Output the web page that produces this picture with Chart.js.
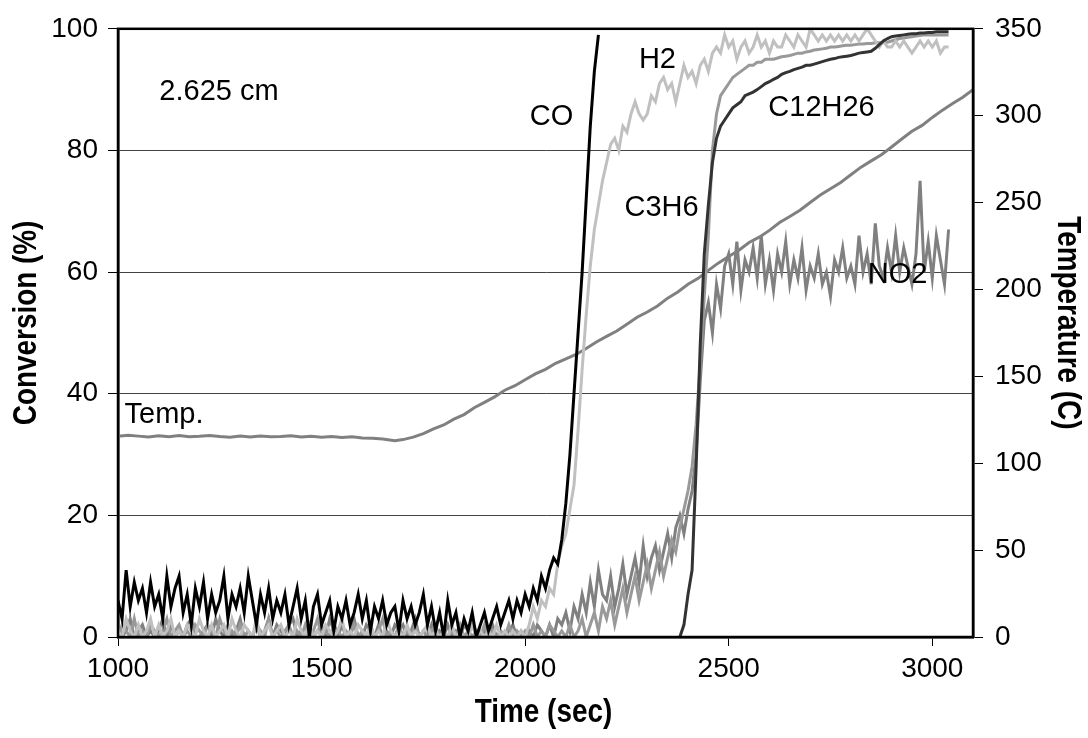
<!DOCTYPE html>
<html>
<head>
<meta charset="utf-8">
<script src="https://cdn.jsdelivr.net/npm/chart.js@4.4.1/dist/chart.umd.min.js"></script>
<style>
  html, body { margin: 0; padding: 0; background: #ffffff; }
  #wrap { width: 1088px; height: 738px; }
</style>
</head>
<body>
<div id="wrap"><canvas id="c" width="1088" height="738"></canvas></div>
<script>
// ---------------- DATA ----------------
const timeStep = 10;          // seconds between samples
const convStart = 1000;       // first sample time for CO, H2, C3H6, NO2
const c12h26Start = 2380;     // first sample time for C12H26

const xTicks = [1000, 1500, 2000, 2500, 3000];
const convTicks = [0, 20, 40, 60, 80, 100];
const tempTicks = [0, 50, 100, 150, 200, 250, 300, 350];

const coConv = [
  6,3,11,5,9,6,8,4,9,5,
  7,3,10,5,8,10,4,7,2,8,
  5,9,3,7,4,6,10,3,7,5,
  8,4,10,6,2,7,4,8,3,6,
  4,7,2,5,8,3,6,0,5,7,
  2,4,6,1,5,3,6,2,4,7,
  3,6,1,5,3,6,2,4,5,1,
  6,3,5,2,4,7,2,5,1,4,
  0,6,2,4,0,3,1,4,0,2,
  4,1,3,5,2,4,6,3,6,4,
  7,5,8,6,10,8,11,13,12,16,
  22,30,40,50,60,72,84,93,99
];

const h2Conv = [
  1,0,3,1,0,2,0,1,3,0,
  2,0,1,3,0,1,0,2,1,0,
  3,1,0,2,0,1,2,0,3,1,
  0,2,1,0,3,0,1,2,0,1,
  2,0,1,0,3,1,0,2,0,1,
  0,2,1,0,1,3,0,1,0,2,
  1,0,2,0,1,0,3,1,0,1,
  0,2,0,1,0,1,2,0,1,0,
  1,0,2,0,1,0,0,2,0,1,
  0,1,0,2,0,1,0,1,0,1,
  0,2,5,3,6,5,8,7,12,15,
  17,21,25,34,44,53,61,67,71,75,
  78,81,82,80,84,83,86,88,86,85,
  86,89,88,91,92,90,91,88,91,94,
  92,93,91,94,95,93,96,97,96,99,
  97,98,95,97,98,96,97,99,97,98,
  96,98,97,97,99,98,97,99,98,97,
  100,99,98,99,98,99,98,99,98,99,
  98,99,98,99,100,99,98,97,98,97,
  97,98,97,98,97,96,97,98,97,98,
  97,98,96,97,97
];

const c3h6Conv = [
  0,2,1,0,3,0,1,0,2,1,
  0,1,3,0,1,2,0,1,0,2,
  1,0,2,1,0,3,1,0,1,0,
  2,0,1,0,2,1,0,3,0,1,
  0,1,2,0,1,0,2,0,1,3,
  0,1,0,2,1,0,1,0,2,0,
  1,0,2,0,1,3,0,1,0,2,
  0,1,0,2,0,1,0,1,2,0,
  1,0,1,0,2,0,1,0,1,0,
  2,0,1,0,1,0,2,0,1,0,
  1,0,2,0,1,0,2,1,0,1,
  0,2,0,1,3,0,2,4,1,5,
  3,6,2,5,8,4,7,10,6,9,
  12,8,11,14,10,13,16,14,18,21,
  24,28,35,45,56,66,80,86,89,90,
  91,92,92.5,93,93.5,94,94,94.5,94.5,95,
  95,95,95.2,95.4,95.5,95.6,95.8,96,96,96.2,
  96.3,96.5,96.6,96.7,96.8,97,97,97.1,97.2,97.3,
  97.3,97.4,97.5,97.5,97.6,97.6,97.7,97.7,97.7,97.8,
  98,98.2,98.4,98.5,98.6,98.7,98.8,98.9,99,99,
  99,99,99,99,99
];

const no2Conv = [
  2,0,1,3,0,1,2,0,1,0,
  1,3,0,2,0,1,0,2,3,0,
  0,1,2,0,3,1,0,2,0,1,
  3,0,1,0,2,0,1,3,0,2,
  1,0,2,3,0,1,0,2,0,1,
  2,0,3,1,0,2,0,1,3,0,
  0,2,1,0,2,0,1,0,2,1,
  2,0,1,3,0,1,0,2,0,1,
  0,2,0,1,0,2,1,0,1,0,
  1,0,2,0,1,0,1,2,0,1,
  0,1,0,2,1,0,2,0,3,2,
  4,1,5,3,7,4,9,5,11,7,
  6,10,5,8,12,7,10,13,9,15,
  10,13,15,11,14,17,13,18,20,17,
  21,24,30,42,52,55,50,58,54,61,
  63,58,65,57,62,60,64,59,66,58,
  62,57,63,60,65,58,62,59,64,57,
  61,59,63,58,60,56,62,60,64,59,
  61,58,66,60,63,58,68,61,59,64,
  60,66,60,64,61,58,63,75,60,65,
  59,66,62,58,67
];

const c12h26Conv = [
  0,2,7,11,28,48,63,71,78,82,
  84,85,86,87,87.5,88,89,89.3,89.6,90,
  90.5,91,91.3,91.7,92,92.5,92.8,93,93.3,93.5,
  93.7,94,94,94.2,94.4,94.6,94.8,95,95.1,95.3,
  95.4,95.5,95.6,95.8,96,96.1,96.2,96.3,96.8,97.4,
  98,98.4,98.7,98.8,98.9,99,99.1,99.2,99.2,99.3,
  99.3,99.4,99.4,99.5,99.5,99.5,99.5
];

const tempTime = [
  1000,1025,1050,1075,1100,1125,1150,1175,1200,1225,1250,1275,1300,1325,1350,1375,
  1400,1425,1450,1475,1500,1525,1550,1575,1600,1625,1650,1680,1700,1725,
  1750,1775,1800,1825,1850,1875,1900,1925,1950,1975,2000,2025,2050,2075,
  2100,2125,2150,2175,2200,2225,2250,2275,2300,2325,2350,2375,2400,2425,
  2450,2475,2500,2525,2550,2575,2600,2625,2650,2675,2700,2725,2750,2775,
  2800,2825,2850,2875,2900,2925,2950,2975,3000,3025,3050,3075,3100
];
const tempValues = [
  115.5,116.1,115.6,115.1,115.8,115.3,115.9,115.2,115.5,116,115.4,115,115.6,115.1,115.7,115.2,
  115.4,115.8,115.1,115.5,115,115.4,114.8,115.2,114.5,114.4,114,113,113.6,115,
  117,119.8,122,125.4,128,131.9,135,138.2,142,144.6,148,151.4,154,157.5,
  160,162.6,166,169.8,173,176.1,180,184,187,190.5,195,198.5,203,206.4,
  211,215.3,219,222.6,227,230.1,234,238.5,242,245.6,250,254.3,258,261.6,
  266,270.4,274,277.5,282,286.6,291,294.4,299,303.2,307,310.6,315
];

const seriesLabels = ['CO', 'H2', 'C3H6', 'C12H26', 'NO2', 'Temp.'];
const axisTitles = { x: 'Time (sec)', y: 'Conversion (%)', y2: 'Temperature (C)' };

// text notes placed at (time, conversion %)
const notes = [
  { text: '2.625 cm', t: 1248, c: 89.6 },
  { text: 'CO',       t: 2065, c: 85.5 },
  { text: 'H2',       t: 2325, c: 94.8 },
  { text: 'C12H26',   t: 2728, c: 87.0 },
  { text: 'C3H6',     t: 2335, c: 70.5 },
  { text: 'NO2',      t: 2915, c: 59.5 },
  { text: 'Temp.',    t: 1113, c: 36.5 }
];

// ---------------- BUILD ----------------
function toPoints(start, values) {
  return values.map((v, i) => ({ x: start + i * timeStep, y: v }));
}
const tempPoints = tempTime.map((t, i) => ({ x: t, y: tempValues[i] }));

const FONT = "'Liberation Sans', Arial, sans-serif";

const baseLine = { pointRadius: 0, borderWidth: 3, tension: 0, fill: false };

const datasets = [
  Object.assign({ label: seriesLabels[0], data: toPoints(convStart, coConv), borderColor: '#000000', yAxisID: 'y', order: 1 }, baseLine),
  Object.assign({ label: seriesLabels[3], data: toPoints(c12h26Start, c12h26Conv), borderColor: '#333333', yAxisID: 'y', order: 2 }, baseLine),
  Object.assign({ label: seriesLabels[1], data: toPoints(convStart, h2Conv), borderColor: '#c0c0c0', yAxisID: 'y', order: 3 }, baseLine),
  Object.assign({ label: seriesLabels[2], data: toPoints(convStart, c3h6Conv), borderColor: '#999999', yAxisID: 'y', order: 4 }, baseLine),
  Object.assign({ label: seriesLabels[4], data: toPoints(convStart, no2Conv), borderColor: '#808080', yAxisID: 'y', order: 5 }, baseLine),
  Object.assign({ label: seriesLabels[5], data: tempPoints, borderColor: '#808080', yAxisID: 'y2', order: 6 }, baseLine)
];

const notesPlugin = {
  id: 'notes',
  afterDatasetsDraw(chart) {
    const { ctx, scales } = chart;
    ctx.save();
    ctx.fillStyle = '#000';
    ctx.font = '29px ' + FONT;
    ctx.textAlign = 'center';
    ctx.textBaseline = 'middle';
    notes.forEach(n => {
      ctx.fillText(n.text, scales.x.getPixelForValue(n.t), scales.y.getPixelForValue(n.c));
    });
    ctx.restore();
  }
};

const framePlugin = {
  id: 'frame',
  afterDatasetsDraw(chart) {
    const a = chart.chartArea;
    const ctx = chart.ctx;
    ctx.save();
    ctx.strokeStyle = '#000';
    ctx.lineWidth = 2.5;
    ctx.strokeRect(a.left, a.top, a.right - a.left, a.bottom - a.top);
    ctx.restore();
  }
};

// condensed bold axis titles (narrow face is not installed, so squeeze horizontally)
const titlePlugin = {
  id: 'axisTitles',
  afterDraw(chart) {
    const { ctx, chartArea: a } = chart;
    const midY = (a.top + a.bottom) / 2 - 10;
    const squeeze = 0.82;
    function put(text, x, y, rot) {
      ctx.save();
      ctx.translate(x, y);
      ctx.rotate(rot);
      ctx.scale(squeeze, 1);
      ctx.fillStyle = '#000';
      ctx.font = 'bold 34px ' + FONT;
      ctx.textAlign = 'center';
      ctx.textBaseline = 'middle';
      ctx.fillText(text, 0, 0);
      ctx.restore();
    }
    put(axisTitles.x, (a.left + a.right) / 2 - 2, 713, 0);
    put(axisTitles.y, 27, midY, -Math.PI / 2);
    put(axisTitles.y2, 1067, midY, Math.PI / 2);
  }
};

function fixedTicks(list) {
  return function (scale) { scale.ticks = list.map(v => ({ value: v })); };
}
const plain = v => String(v);

new Chart(document.getElementById('c'), {
  type: 'line',
  data: { datasets },
  options: {
    responsive: false,
    animation: false,
    devicePixelRatio: 1,
    layout: { padding: { top: 24, left: 0, right: 0, bottom: 0 } },
    plugins: { legend: { display: false }, tooltip: { enabled: false } },
    scales: {
      x: {
        type: 'linear', position: 'bottom', min: 1000, max: 3100,
        afterBuildTicks: fixedTicks(xTicks),
        afterFit: s => { s.height = 101; },
        ticks: { font: { size: 28, family: FONT }, color: '#000', padding: 6, maxRotation: 0, autoSkip: false, callback: plain },
        grid: { drawOnChartArea: false, drawTicks: true, tickLength: 9, tickColor: '#000', tickWidth: 1 },
        border: { display: true, color: '#000', width: 2.5 }
      },
      y: {
        type: 'linear', position: 'left', min: 0, max: 100,
        afterBuildTicks: fixedTicks(convTicks),
        afterFit: s => { s.width = 118; },
        ticks: { font: { size: 28, family: FONT }, color: '#000', padding: 10, callback: plain },
        grid: { color: '#444444', lineWidth: 1, drawTicks: true, tickLength: 10, tickColor: '#000', tickWidth: 1 },
        border: { display: true, color: '#000', width: 2.5 }
      },
      y2: {
        type: 'linear', position: 'right', min: 0, max: 350,
        afterBuildTicks: fixedTicks(tempTicks),
        afterFit: s => { s.width = 115; },
        ticks: { font: { size: 28, family: FONT }, color: '#000', padding: 12, callback: plain },
        grid: { drawOnChartArea: false, drawTicks: true, tickLength: 10, tickColor: '#000', tickWidth: 1 },
        border: { display: true, color: '#000', width: 2.5 }
      }
    }
  },
  plugins: [notesPlugin, framePlugin, titlePlugin]
});
</script>
</body>
</html>
